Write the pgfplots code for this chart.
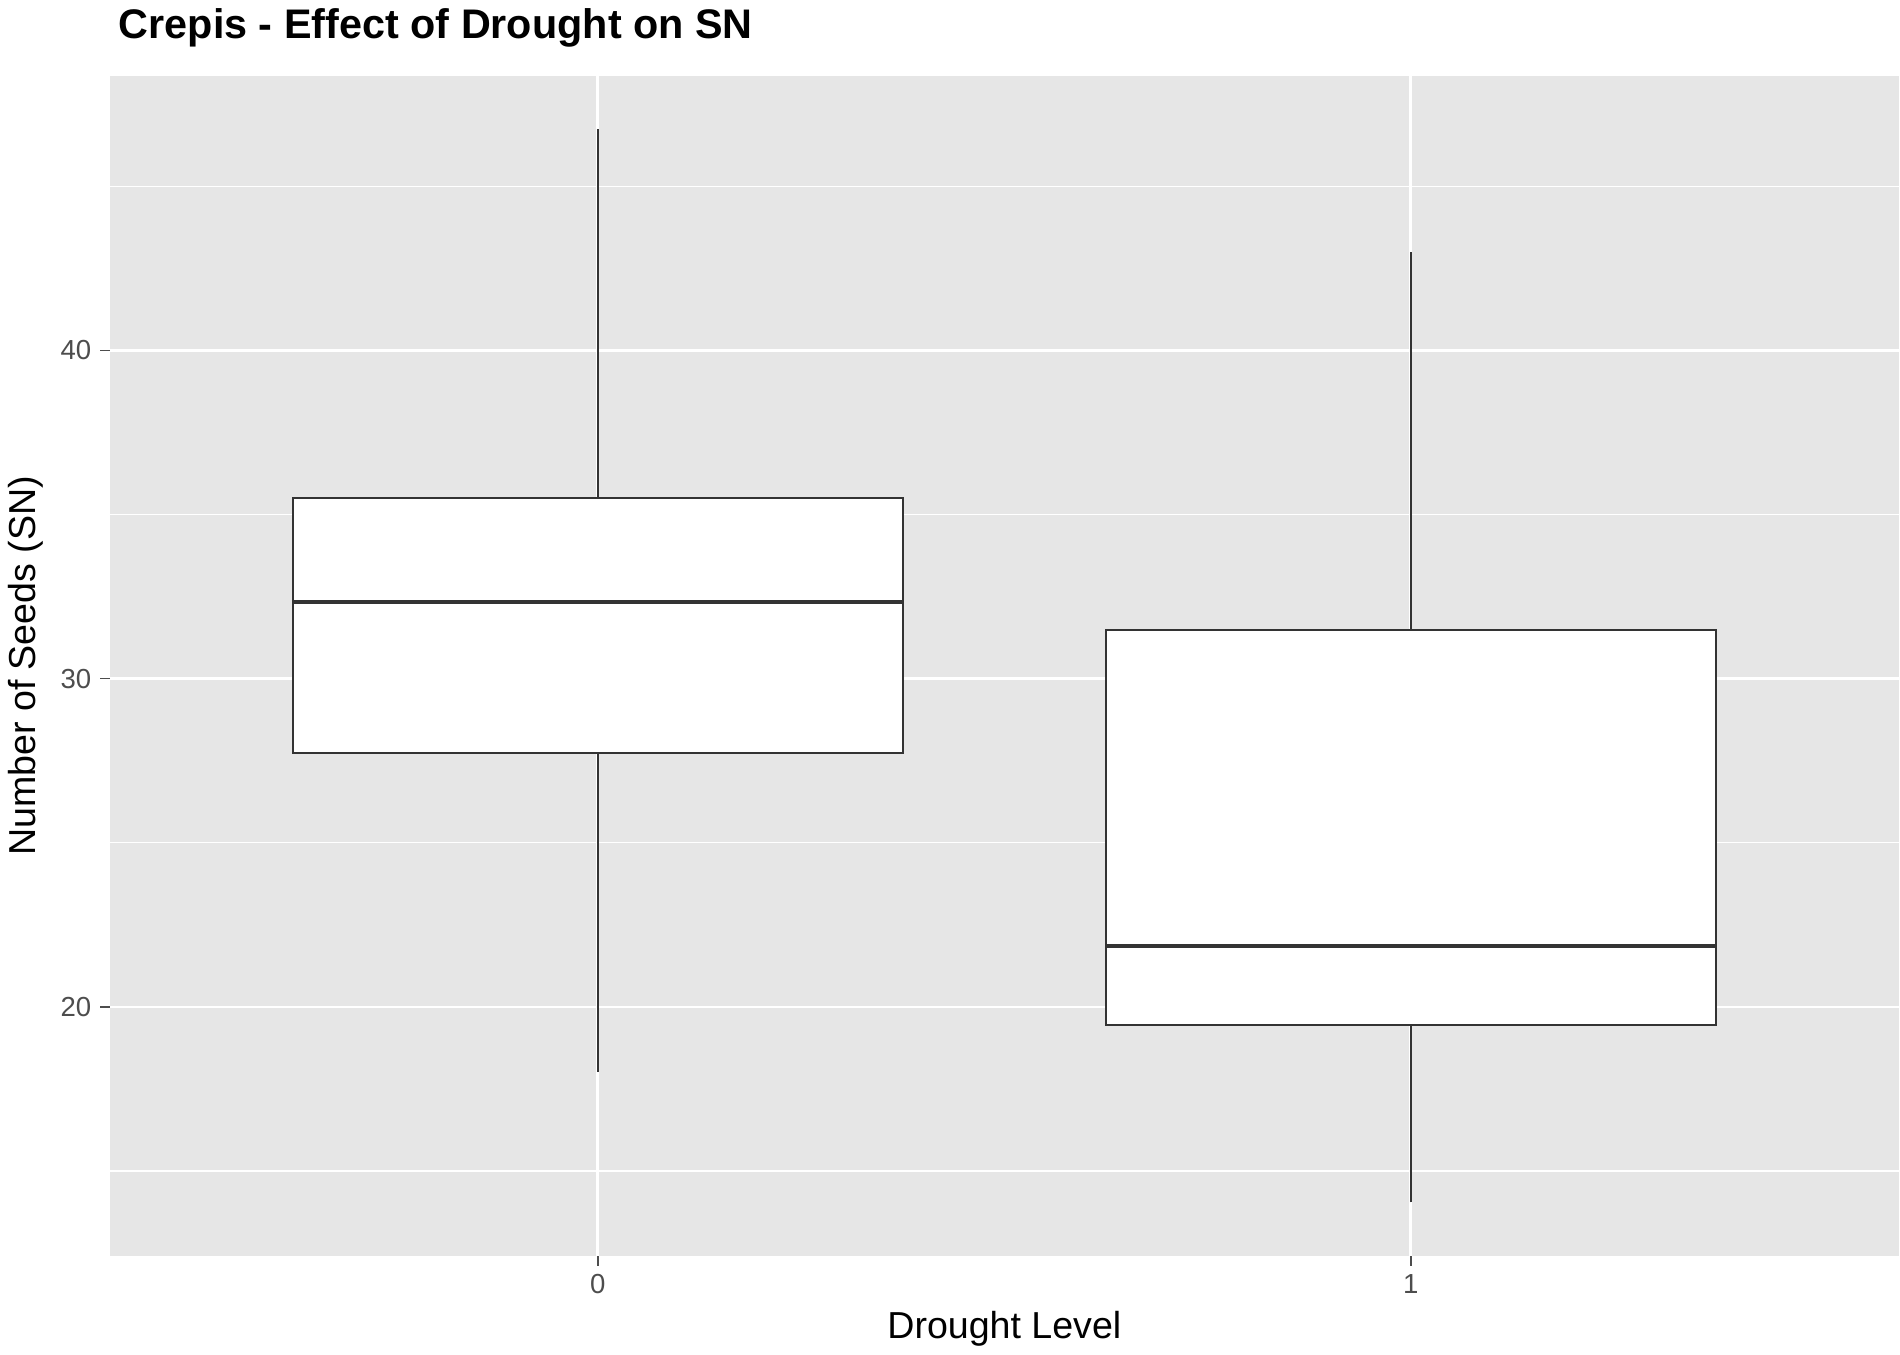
\documentclass[border=0pt]{standalone}
\usepackage{pgfplots}
\pgfplotsset{compat=1.18}
\usepackage{fontspec}
\setmainfont{Liberation Sans}
\definecolor{panel}{HTML}{E6E6E6}
\definecolor{tickc}{HTML}{4D4D4D}
\definecolor{boxc}{HTML}{333333}
\begin{document}
\begin{tikzpicture}
\begin{axis}[
  scale only axis, width=714pt, height=471pt,
  xmin=-0.6, xmax=1.6, ymin=12.42, ymax=48.36,
  axis background/.style={fill=panel},
  axis line style={draw=none},
  xtick={0,1}, ytick={20,30,40}, minor ytick={15,25,35,45},
  xtick pos=bottom, ytick pos=left,
  grid=both,
  major grid style={white, line width=1.1pt},
  minor grid style={white, line width=0.55pt},
  minor tick length=0pt, major tick length=4pt, tick align=outside,
  tick style={tickc, line width=0.6pt},
  ticklabel style={font=\fontsize{11}{13}\selectfont, text=tickc},
  /pgf/number format/assume math mode=true,
  xlabel={Drought Level}, ylabel={Number of Seeds (SN)},
  label style={font=\fontsize{15}{18}\selectfont},
  title={\textbf{Crepis - Effect of Drought on SN}},
  title style={at={(0,1)}, anchor=south west, font=\fontsize{16.5}{19}\selectfont, yshift=2pt},
]
% group 0
\addplot[boxc, line width=0.7pt] coordinates {(0,35.5) (0,46.73)};
\addplot[boxc, line width=0.7pt] coordinates {(0,18.03) (0,27.73)};
\addplot[draw=boxc, fill=white, line width=0.7pt] coordinates {(-0.375,27.73) (0.375,27.73) (0.375,35.5) (-0.375,35.5)} -- cycle;
\addplot[boxc, line width=1.8pt] coordinates {(-0.375,32.34) (0.375,32.34)};
% group 1
\addplot[boxc, line width=0.7pt] coordinates {(1,31.49) (1,43.0)};
\addplot[boxc, line width=0.7pt] coordinates {(1,14.05) (1,19.44)};
\addplot[draw=boxc, fill=white, line width=0.7pt] coordinates {(0.625,19.44) (1.375,19.44) (1.375,31.49) (0.625,31.49)} -- cycle;
\addplot[boxc, line width=1.8pt] coordinates {(0.625,21.86) (1.375,21.86)};
\end{axis}
\end{tikzpicture}
\end{document}
